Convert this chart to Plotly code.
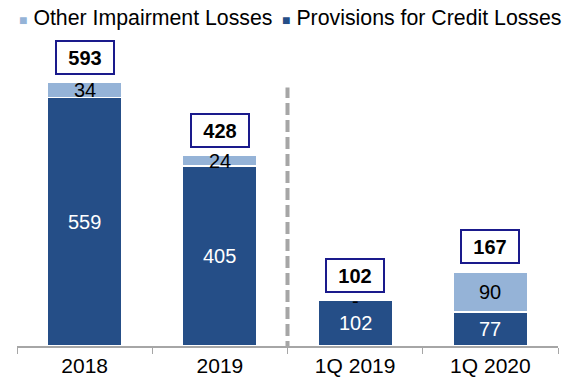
import plotly.graph_objects as go

# Impairment losses by period (EUR m)
categories = ["2018", "2019", "1Q 2019", "1Q 2020"]
provisions = [559, 405, 102, 77]
other_impairment = [34, 24, 0, 90]
other_labels = ["34", "24", "-", "90"]
totals = [593, 428, 102, 167]

NAVY = "#254E87"
LIGHT = "#95B3D7"
FONT = "Liberation Sans, Arial, sans-serif"

L, R, T, B, W, H = 17, 10, 40, 39, 568, 387
PW = W - L - R


def px_to_paper_x(px):
    return (px - L) / PW


fig = go.Figure()
# provisions form the base of each stack, other impairment sits on top
fig.add_trace(go.Bar(
    name="Provisions for Credit Losses", x=categories, y=provisions,
    marker=dict(color=NAVY, line=dict(color="white", width=1.5)),
    width=0.55, showlegend=False,
))
fig.add_trace(go.Bar(
    name="Other Impairment Losses", x=categories, y=other_impairment,
    marker=dict(color=LIGHT, line=dict(color="white", width=1.5)),
    width=0.55, showlegend=False,
))

annotations = []
for i, (p, o, olab, t) in enumerate(zip(provisions, other_impairment, other_labels, totals)):
    annotations.append(dict(x=i, y=p / 2, text=str(p), showarrow=False,
                            font=dict(family=FONT, size=20, color="white")))
    annotations.append(dict(x=i, y=p + o / 2, text=olab, showarrow=False,
                            font=dict(family=FONT, size=20, color="black")))
    annotations.append(dict(x=i, y=t, text=f"<b>{t}</b>", showarrow=False,
                            yanchor="bottom", yshift=8, width=54, height=29,
                            align="center", xshift=0,
                            bordercolor="#1A1A8C", borderwidth=2,
                            borderpad=1, bgcolor="white",
                            font=dict(family=FONT, size=20, color="black")))

# legend drawn as text entries with square swatches
legend_items = [("Other Impairment Losses", LIGHT, 17),
                ("Provisions for Credit Losses", NAVY, 280)]
for label, color, xpx in legend_items:
    annotations.append(dict(
        xref="paper", yref="paper", x=px_to_paper_x(xpx), y=(H - B - 18) / (H - T - B),
        xanchor="left", yanchor="middle", showarrow=False,
        text=f'<span style="color:{color};font-size:14px">■</span> {label}',
        font=dict(family=FONT, size=21.3, color="black")))

fig.update_layout(
    barmode="stack",
    width=W, height=H,
    margin=dict(l=L, r=R, t=T, b=B),
    plot_bgcolor="white", paper_bgcolor="white",
    font=dict(family=FONT, size=20, color="black"),
    showlegend=False,
    annotations=annotations,
    xaxis=dict(type="category", range=[-0.5, 3.5], showline=True,
               linecolor="#A6A6A6", linewidth=1.5, ticks="outside",
               tickson="boundaries", ticklen=6, tickcolor="#A6A6A6",
               tickfont=dict(family=FONT, size=21), showgrid=False),
    yaxis=dict(range=[0, 689], visible=False, showgrid=False),
    shapes=[dict(type="line", xref="x", yref="y", x0=1.5, x1=1.5,
                 y0=-16, y1=582,
                 line=dict(color="#A6A6A6", width=4, dash="12px,5px"))],
)

fig.write_html("out.html")
